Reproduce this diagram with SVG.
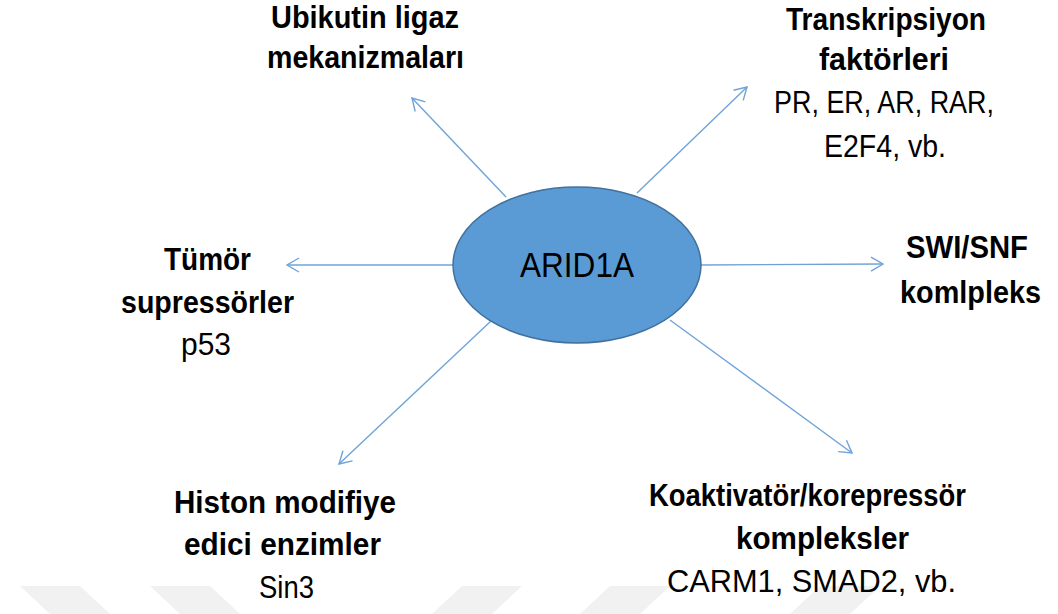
<svg xmlns="http://www.w3.org/2000/svg" width="1058" height="614" viewBox="0 0 1058 614">
<defs>
<style>
.b{font-family:"Liberation Sans",Arial,sans-serif;font-weight:bold;font-size:32px;fill:#000}
.r{font-family:"Liberation Sans",Arial,sans-serif;font-size:32px;fill:#000}
.c{stroke:#6FA3D8;stroke-width:1.4;fill:none;marker-end:url(#ah)}
.wm{fill:#F1F1F1}
</style>
<marker id="ah" markerUnits="userSpaceOnUse" markerWidth="16" markerHeight="16" refX="13" refY="8" orient="auto" viewBox="0 0 16 16">
<path d="M1,1 L13,8 L1,15" fill="none" stroke="#6FA3D8" stroke-width="1.4"/>
</marker>
</defs>
<rect width="1058" height="614" fill="#fff"/>
<g id="watermark">
<polygon class="wm" points="20,586 80,586 110,614 50,614"/>
<polygon class="wm" points="150,586 210,586 240,614 180,614"/>
<polygon class="wm" points="462,586 522,586 492,614 432,614"/>
<polygon class="wm" points="610,586 670,586 640,614 580,614"/>
<polygon class="wm" points="820,586 880,586 850,614 790,614"/>
</g>
<g id="connectors">
<line class="c" x1="506" y1="197" x2="412" y2="98"/>
<line class="c" x1="637" y1="193" x2="747" y2="87"/>
<line class="c" x1="701" y1="265" x2="883" y2="264"/>
<line class="c" x1="453" y1="265" x2="287" y2="265"/>
<line class="c" x1="491" y1="321" x2="339" y2="464"/>
<line class="c" x1="670" y1="320" x2="852" y2="453"/>
</g>
<g id="arid1a">
<ellipse cx="577" cy="265" rx="124" ry="78" fill="#5B9BD5" stroke="#41719C" stroke-width="1.5"/>
<text class="r" x="520" y="277" textLength="114" lengthAdjust="spacingAndGlyphs" style="font-size:35px">ARID1A</text>
</g>
<g id="ubikutin">
<text class="b" x="271" y="28" textLength="188" lengthAdjust="spacingAndGlyphs">Ubikutin ligaz</text>
<text class="b" x="267" y="68" textLength="197" lengthAdjust="spacingAndGlyphs">mekanizmaları</text>
</g>
<g id="transkripsiyon">
<text class="b" x="786" y="30" textLength="200" lengthAdjust="spacingAndGlyphs">Transkripsiyon</text>
<text class="b" x="819" y="70" textLength="130" lengthAdjust="spacingAndGlyphs">faktörleri</text>
<text class="r" x="774" y="113" textLength="220" lengthAdjust="spacingAndGlyphs">PR, ER, AR, RAR,</text>
<text class="r" x="824" y="157" textLength="122" lengthAdjust="spacingAndGlyphs">E2F4, vb.</text>
</g>
<g id="swisnf">
<text class="b" x="906" y="258" textLength="122" lengthAdjust="spacingAndGlyphs">SWI/SNF</text>
<text class="b" x="900" y="303" textLength="141" lengthAdjust="spacingAndGlyphs">komlpleks</text>
</g>
<g id="tumor">
<text class="b" x="164" y="270" textLength="87" lengthAdjust="spacingAndGlyphs">Tümör</text>
<text class="b" x="121" y="313" textLength="173" lengthAdjust="spacingAndGlyphs">supressörler</text>
<text class="r" x="181" y="355" textLength="50" lengthAdjust="spacingAndGlyphs">p53</text>
</g>
<g id="histon">
<text class="b" x="174" y="513" textLength="222" lengthAdjust="spacingAndGlyphs">Histon modifiye</text>
<text class="b" x="184" y="555" textLength="197" lengthAdjust="spacingAndGlyphs">edici enzimler</text>
<text class="r" x="259" y="598" textLength="55" lengthAdjust="spacingAndGlyphs">Sin3</text>
</g>
<g id="koaktivator">
<text class="b" x="649" y="506" textLength="317" lengthAdjust="spacingAndGlyphs">Koaktivatör/korepressör</text>
<text class="b" x="736" y="549" textLength="173" lengthAdjust="spacingAndGlyphs">kompleksler</text>
<text class="r" x="667" y="592" textLength="289" lengthAdjust="spacingAndGlyphs">CARM1, SMAD2, vb.</text>
</g>
</svg>
